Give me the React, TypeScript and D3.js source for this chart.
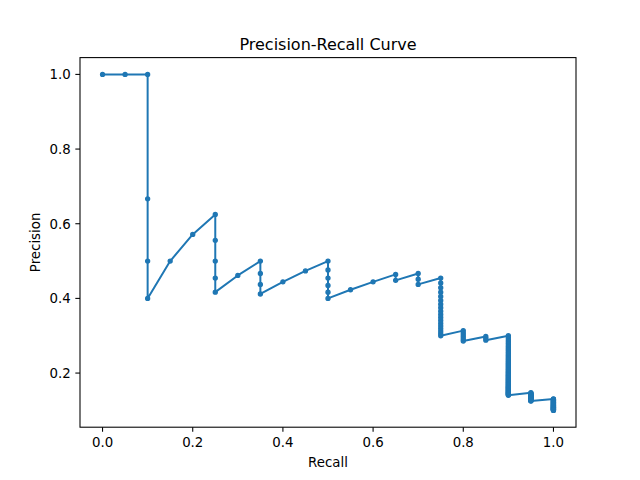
import React from "react";
import * as d3 from "d3";

const recallLevels = [0, 0.05, 0.1, 0.15, 0.2, 0.25, 0.3, 0.35, 0.4, 0.45, 0.5, 0.55, 0.6, 0.65, 0.7, 0.75, 0.8, 0.85, 0.9, 0.95, 1.0];

const precisionAtLevel: number[][] = [
  [1.0],
  [1.0],
  [1.0, 0.6667, 0.5, 0.4],
  [0.5],
  [0.5714],
  [0.625, 0.5556, 0.5, 0.4545, 0.4167],
  [0.4615],
  [0.5, 0.4667, 0.4375, 0.4118],
  [0.4444],
  [0.4737],
  [0.5, 0.4762, 0.4545, 0.4348, 0.4167, 0.4],
  [0.4231],
  [0.4444],
  [0.4643, 0.4483],
  [0.4667, 0.4516, 0.4375],
  [0.4545, 0.4412, 0.4286, 0.4167, 0.4054, 0.3947, 0.3846, 0.375, 0.3659, 0.3571, 0.3488, 0.3409, 0.3333, 0.3261, 0.3191, 0.3125, 0.3061, 0.3],
  [0.3137, 0.3077, 0.3019, 0.2963, 0.2909, 0.2857],
  [0.2982, 0.2931, 0.2881],
  [0.3, 0.2951, 0.2903, 0.2857, 0.2813, 0.2769, 0.2727, 0.2687, 0.2647, 0.2609, 0.2571, 0.2535, 0.25, 0.2466, 0.2432, 0.24, 0.2368, 0.2338, 0.2308, 0.2278, 0.225, 0.2222, 0.2195, 0.2169, 0.2143, 0.2118, 0.2093, 0.2069, 0.2045, 0.2022, 0.2, 0.1978, 0.1957, 0.1935, 0.1915, 0.1895, 0.1875, 0.1856, 0.1837, 0.1818, 0.18, 0.1782, 0.1765, 0.1748, 0.1731, 0.1714, 0.1698, 0.1682, 0.1667, 0.1651, 0.1636, 0.1622, 0.1607, 0.1593, 0.1579, 0.1565, 0.1552, 0.1538, 0.1525, 0.1513, 0.15, 0.1488, 0.1475, 0.1463, 0.1452, 0.144, 0.1429, 0.1417, 0.1406],
  [0.1473, 0.1462, 0.145, 0.1439, 0.1429, 0.1418, 0.1407, 0.1397, 0.1387, 0.1377, 0.1367, 0.1357, 0.1348, 0.1338, 0.1329, 0.1319, 0.131, 0.1301, 0.1293, 0.1284, 0.1275, 0.1267, 0.1258, 0.125],
  [0.1307, 0.1299, 0.129, 0.1282, 0.1274, 0.1266, 0.1258, 0.125, 0.1242, 0.1235, 0.1227, 0.122, 0.1212, 0.1205, 0.1198, 0.119, 0.1183, 0.1176, 0.117, 0.1163, 0.1156, 0.1149, 0.1143, 0.1136, 0.113, 0.1124, 0.1117, 0.1111, 0.1105, 0.1099, 0.1093, 0.1087, 0.1081, 0.1075, 0.107, 0.1064, 0.1058, 0.1053, 0.1047, 0.1042, 0.1036, 0.1031, 0.1026, 0.1021, 0.1015, 0.101, 0.1005, 0.1],
];

const xTicks = [0.0, 0.2, 0.4, 0.6, 0.8, 1.0];
const yTicks = [0.2, 0.4, 0.6, 0.8, 1.0];

const W = 640, H = 480;
const L = 80, R = 576, T = 57.6, B = 427.2;
const COLOR = "#1f77b4";
const FONT = "DejaVu Sans, sans-serif";

export default function App() {
  const points: [number, number][] = [];
  recallLevels.forEach((r, i) => precisionAtLevel[i].forEach((p) => points.push([r, p])));

  const xs = d3.scaleLinear().domain([-0.05, 1.05]).range([L, R]);
  const yMin = d3.min(points, (d) => d[1]) as number;
  const yMax = d3.max(points, (d) => d[1]) as number;
  const pad = (yMax - yMin) * 0.05;
  const ys = d3.scaleLinear().domain([yMin - pad, yMax + pad]).range([B, T]);

  const line = d3.line<[number, number]>().x((d) => xs(d[0])).y((d) => ys(d[1]));

  return (
    <svg width={W} height={H} style={{ display: "block", position: "absolute", left: 0, top: 0, background: "#fff" }} fontFamily={FONT}>
      <rect x={0} y={0} width={W} height={H} fill="#fff" />
      <defs>
        <clipPath id="plotclip">
          <rect x={L} y={T} width={R - L} height={B - T} />
        </clipPath>
      </defs>
      <g clipPath="url(#plotclip)">
        <path d={line(points) || ""} fill="none" stroke={COLOR} strokeWidth={2} strokeLinejoin="round" strokeLinecap="square" />
        {points.map((d, i) => (
          <circle key={i} cx={xs(d[0])} cy={ys(d[1])} r={2} fill={COLOR} stroke={COLOR} strokeWidth={1.33} />
        ))}
      </g>
      <rect x={L} y={T} width={R - L} height={B - T} fill="none" stroke="#000" strokeWidth={1.07} />
      {xTicks.map((t) => (
        <g key={"x" + t}>
          <line x1={xs(t)} x2={xs(t)} y1={B} y2={B + 4.67} stroke="#000" strokeWidth={1.07} />
          <text x={xs(t)} y={B + 4.67 + 4.67 + 10.5} textAnchor="middle" fontSize={13.33} fill="#000">
            {t.toFixed(1)}
          </text>
        </g>
      ))}
      {yTicks.map((t) => (
        <g key={"y" + t}>
          <line x1={L - 4.67} x2={L} y1={ys(t)} y2={ys(t)} stroke="#000" strokeWidth={1.07} />
          <text x={L - 4.67 - 4.67} y={ys(t)} dy="0.36em" textAnchor="end" fontSize={13.33} fill="#000">
            {t.toFixed(1)}
          </text>
        </g>
      ))}
      <text x={(L + R) / 2} y={467} textAnchor="middle" fontSize={13.33} fill="#000">Recall</text>
      <text transform={`translate(40,${(T + B) / 2}) rotate(-90)`} textAnchor="middle" fontSize={13.33} fill="#000">Precision</text>
      <text x={(L + R) / 2} y={49.6} textAnchor="middle" fontSize={16} fill="#000">Precision-Recall Curve</text>
    </svg>
  );
}
